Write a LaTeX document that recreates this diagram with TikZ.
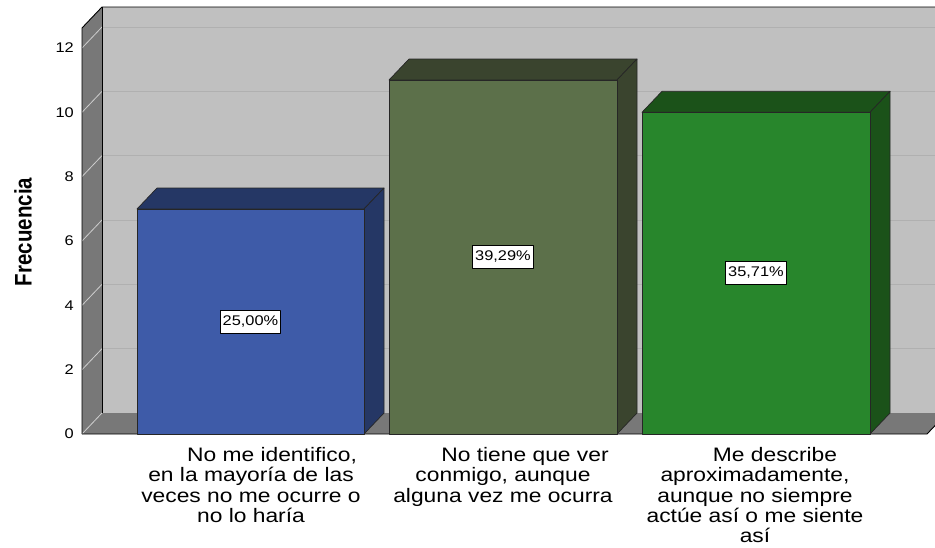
\documentclass[tikz,border=0pt]{standalone}
\usepackage{fontspec}
\setmainfont{Liberation Sans}
\newfontfamily\spssfont[FakeStretch=1.17]{Liberation Sans}
\usetikzlibrary{positioning}

\definecolor{backwall}{RGB}{192,192,192}
\definecolor{sidewall}{RGB}{120,120,120}
\definecolor{gridback}{RGB}{176,176,176}
\definecolor{gridside}{RGB}{205,205,205}
\definecolor{bluefront}{RGB}{62,91,168}
\definecolor{blueside}{RGB}{37,55,101}
\definecolor{olivefront}{RGB}{92,112,74}
\definecolor{oliveside}{RGB}{58,68,46}
\definecolor{greenfront}{RGB}{40,134,44}
\definecolor{greenside}{RGB}{27,82,25}

\begin{document}
\begin{tikzpicture}[x=1pt,y=-1pt,line join=round,
  edge/.style={draw=black,line width=0.9pt},
  face/.style={draw=black!85,line width=0.7pt},
  tick/.style={anchor=east,inner sep=0pt,font=\spssfont\fontsize{14}{14}\selectfont},
  pct/.style={draw=black,fill=white,line width=0.7pt,inner xsep=2.5pt,minimum height=23pt,font=\spssfont\fontsize{14}{14}\selectfont},
  cat/.style={anchor=north,align=center,inner sep=0pt,font=\spssfont\fontsize{19.5}{20.4}\selectfont}]

  \useasboundingbox (0,0) rectangle (935,547);

  \begin{scope}
  \clip (0,0) rectangle (935,547);
  % walls and floor
  \fill[backwall] (102,7) rectangle (947,413);
  \fill[sidewall] (82,28) -- (102,7) -- (102,413) -- (82,434) -- cycle;
  \fill[sidewall] (82,434) -- (102,413) -- (947,413) -- (927,434) -- cycle;

  % grid on the back wall
  \draw[gridback,line width=1pt] (102,348.7) -- (947,348.7);
  \draw[gridback,line width=1pt] (102,284.3) -- (947,284.3);
  \draw[gridback,line width=1pt] (102,220) -- (947,220);
  \draw[gridback,line width=1pt] (102,155.6) -- (947,155.6);
  \draw[gridback,line width=1pt] (102,91.3) -- (947,91.3);
  \draw[gridback,line width=1pt] (102,27) -- (947,27);
  % grid on the side wall
  \draw[gridside,line width=0.8pt] (82,434) -- (102,413);
  \draw[gridside,line width=0.8pt] (82,369.7) -- (102,348.7);
  \draw[gridside,line width=0.8pt] (82,305.3) -- (102,284.3);
  \draw[gridside,line width=0.8pt] (82,241) -- (102,220);
  \draw[gridside,line width=0.8pt] (82,176.6) -- (102,155.6);
  \draw[gridside,line width=0.8pt] (82,112.3) -- (102,91.3);
  \draw[gridside,line width=0.8pt] (82,48) -- (102,27);

  % frame edges
  \draw[edge] (82,434) -- (82,28) -- (102,7) -- (947,7);
  \draw[edge] (102,7) -- (102,413);
  \draw[edge] (82,434) -- (927,434) -- (947,413);
  \end{scope}

  % bars
  \filldraw[face,fill=blueside] (137,209) -- (157,188) -- (384,188) -- (364,209) -- cycle;
  \filldraw[face,fill=blueside] (364,434) -- (384,413) -- (384,188) -- (364,209) -- cycle;
  \filldraw[face,fill=bluefront] (137,434) rectangle (364,209);

  \filldraw[face,fill=oliveside] (389,80) -- (409,59) -- (637,59) -- (617,80) -- cycle;
  \filldraw[face,fill=oliveside] (617,434) -- (637,413) -- (637,59) -- (617,80) -- cycle;
  \filldraw[face,fill=olivefront] (389,434) rectangle (617,80);

  \filldraw[face,fill=greenside] (642,112.3) -- (662,91.3) -- (890,91.3) -- (870,112.3) -- cycle;
  \filldraw[face,fill=greenside] (870,434) -- (890,413) -- (890,91.3) -- (870,112.3) -- cycle;
  \filldraw[face,fill=greenfront] (642,434) rectangle (870,112.3);

  % value labels
  \node[pct] (p1) at (250.5,321.5) {25,00\%};
  \node[pct] (p2) at (503,257) {39,29\%};
  \node[pct] (p3) at (756,273) {35,71\%};

  % axis
  \node[tick] (t0) at (74,434) {0};
  \node[tick] (t2) at (74,369.7) {2};
  \node[tick] (t4) at (74,305.3) {4};
  \node[tick] (t6) at (74,241) {6};
  \node[tick] (t8) at (74,176.6) {8};
  \node[tick] (t10) at (74,112.3) {10};
  \node[tick] (t12) at (74,48) {12};
  \node[rotate=90,inner sep=0pt,font=\bfseries\fontsize{20.5}{20.5}\selectfont] (freq) at (23,232) {\scalebox{1}[1.17]{Frecuencia}};

  % categories
  \node[cat] (c1) at (251,447) {\hspace*{42pt}No me identifico,\\en la mayoría de las\\veces no me ocurre o\\no lo haría};
  \node[cat] (c2) at (503,447) {\hspace*{44pt}No tiene que ver\\conmigo, aunque\\alguna vez me ocurra};
  \node[cat] (c3) at (755,447) {\hspace*{40pt}Me describe\\aproximadamente,\\aunque no siempre\\actúe así o me siente\\así};
\end{tikzpicture}
\end{document}
